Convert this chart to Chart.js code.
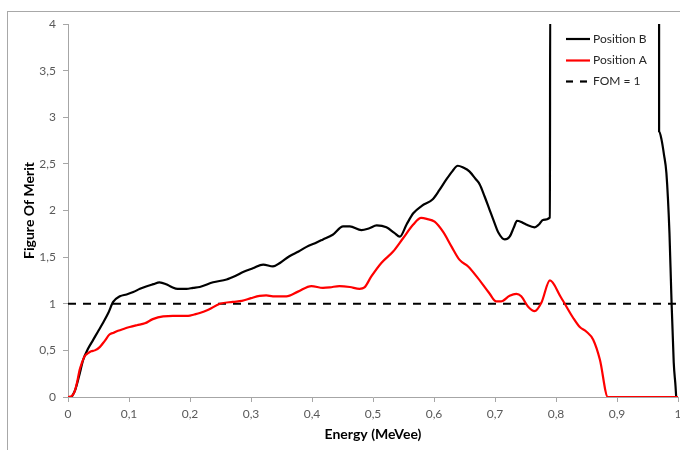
<!DOCTYPE html>
<html>
<head>
<meta charset="utf-8">
<script src="https://cdn.jsdelivr.net/npm/chart.js@4/dist/chart.umd.min.js"></script>
<style>
  html, body { margin: 0; padding: 0; width: 680px; height: 450px; overflow: hidden; background: #fff; }
  #frame { position: absolute; left: 7px; top: 11px; width: 720px; height: 480px; border: 1px solid #a8a8a8; }
  #wrap { position: absolute; left: 0; top: 0; width: 700px; height: 450px; }
</style>
</head>
<body>
<div id="frame"></div>
<div id="wrap"><canvas id="fom" width="700" height="450"></canvas></div>
<script>
// Position B: energy (MeVee) and figure of merit
const energyB = [0.006, 0.012, 0.018, 0.025, 0.033, 0.041, 0.049, 0.057, 0.066, 0.074, 0.085, 0.096, 0.107, 0.118, 0.128, 0.140, 0.150, 0.161, 0.170, 0.180, 0.194, 0.205, 0.216, 0.238, 0.260, 0.275, 0.287, 0.303, 0.320, 0.336, 0.348, 0.363, 0.378, 0.391, 0.405, 0.418, 0.434, 0.451, 0.462, 0.481, 0.494, 0.506, 0.522, 0.535, 0.544, 0.555, 0.566, 0.580, 0.598, 0.609, 0.620, 0.630, 0.639, 0.648, 0.658, 0.668, 0.675, 0.683, 0.691, 0.699, 0.705, 0.716, 0.724, 0.731, 0.736, 0.745, 0.751, 0.765, 0.772, 0.779, 0.790, 0.7905, 0.969, 0.969, 0.973, 0.977, 0.981, 0.986, 0.989, 0.993, 0.996, 0.997];
const fomB = [0, 0.08, 0.22, 0.40, 0.52, 0.61, 0.70, 0.79, 0.90, 1.02, 1.08, 1.10, 1.125, 1.16, 1.185, 1.21, 1.23, 1.21, 1.18, 1.16, 1.16, 1.17, 1.18, 1.23, 1.26, 1.30, 1.34, 1.38, 1.42, 1.40, 1.44, 1.51, 1.56, 1.61, 1.65, 1.69, 1.74, 1.83, 1.83, 1.79, 1.81, 1.84, 1.82, 1.76, 1.72, 1.85, 1.97, 2.05, 2.12, 2.22, 2.33, 2.42, 2.48, 2.46, 2.42, 2.34, 2.28, 2.15, 2.01, 1.87, 1.77, 1.69, 1.72, 1.82, 1.89, 1.87, 1.85, 1.82, 1.85, 1.90, 1.925, 4.4, 4.4, 2.85, 2.76, 2.60, 2.40, 1.76, 1.11, 0.37, 0.11, 0];

// Position A: energy (MeVee) and figure of merit
const energyA = [0, 0.006, 0.011, 0.015, 0.019, 0.023, 0.027, 0.033, 0.038, 0.044, 0.052, 0.060, 0.068, 0.075, 0.082, 0.091, 0.101, 0.113, 0.126, 0.139, 0.156, 0.172, 0.185, 0.197, 0.207, 0.216, 0.230, 0.249, 0.270, 0.285, 0.300, 0.314, 0.325, 0.336, 0.358, 0.377, 0.399, 0.418, 0.429, 0.445, 0.462, 0.478, 0.486, 0.497, 0.514, 0.533, 0.549, 0.566, 0.579, 0.588, 0.601, 0.615, 0.629, 0.642, 0.656, 0.672, 0.691, 0.702, 0.710, 0.724, 0.735, 0.743, 0.754, 0.765, 0.776, 0.790, 0.808, 0.828, 0.839, 0.850, 0.861, 0.872, 0.885, 1.0];
const fomA = [0, 0.01, 0.06, 0.16, 0.29, 0.37, 0.435, 0.47, 0.49, 0.50, 0.535, 0.60, 0.67, 0.69, 0.71, 0.73, 0.75, 0.77, 0.79, 0.835, 0.865, 0.87, 0.87, 0.87, 0.885, 0.90, 0.935, 1.0, 1.02, 1.03, 1.06, 1.085, 1.09, 1.08, 1.08, 1.13, 1.19, 1.17, 1.175, 1.19, 1.18, 1.16, 1.175, 1.29, 1.44, 1.56, 1.70, 1.85, 1.92, 1.91, 1.88, 1.77, 1.61, 1.47, 1.40, 1.275, 1.11, 1.025, 1.025, 1.085, 1.105, 1.08, 0.97, 0.92, 1.01, 1.25, 1.07, 0.85, 0.75, 0.70, 0.615, 0.40, 0, 0];

// Threshold FOM = 1
const energyRef = [0, 1];
const fomRef = [1, 1];

const xTicks = [0, 0.1, 0.2, 0.3, 0.4, 0.5, 0.6, 0.7, 0.8, 0.9, 1];
const yTicks = [0, 0.5, 1, 1.5, 2, 2.5, 3, 3.5, 4];

const pts = (xs, ys) => xs.map((x, i) => ({ x: x, y: ys[i] }));
const comma = v => String(Math.round(v * 10) / 10).replace('.', ',');

// Legend drawn inside the plot, top right
const insideLegend = {
  id: 'insideLegend',
  afterDraw(chart) {
    const ctx = chart.ctx;
    const x0 = 566, x1 = 590, tx = 593;
    const rows = [39, 60.5, 81.5];
    ctx.save();
    ctx.font = '12px Lato';
    ctx.textBaseline = 'middle';
    ctx.textAlign = 'left';
    chart.data.datasets.forEach((ds, i) => {
      const y = rows[i];
      ctx.strokeStyle = ds.borderColor;
      ctx.lineWidth = 2.2;
      ctx.setLineDash(ds.borderDash && ds.borderDash.length ? [7, 7] : []);
      ctx.beginPath();
      ctx.moveTo(x0, y);
      ctx.lineTo(x1, y);
      ctx.stroke();
      ctx.setLineDash([]);
      ctx.fillStyle = '#262626';
      ctx.fillText(ds.label, tx, y);
    });
    ctx.restore();
  }
};

new Chart(document.getElementById('fom'), {
  type: 'line',
  data: {
    datasets: [
      { label: 'Position B', data: pts(energyB, fomB), borderColor: '#000000', borderWidth: 2.2, pointRadius: 0, cubicInterpolationMode: 'monotone', order: 2 },
      { label: 'Position A', data: pts(energyA, fomA), borderColor: '#ff0000', borderWidth: 2.2, pointRadius: 0, cubicInterpolationMode: 'monotone', order: 1 },
      { label: 'FOM = 1', data: pts(energyRef, fomRef), borderColor: '#000000', borderWidth: 2.2, borderDash: [8, 7], pointRadius: 0, order: 3 }
    ]
  },
  options: {
    responsive: false,
    animation: false,
    events: [],
    layout: { padding: { left: 0, right: 22, top: 24, bottom: 0 } },
    plugins: { legend: { display: false }, tooltip: { enabled: false } },
    scales: {
      x: {
        type: 'linear', min: 0, max: 1,
        afterFit: s => { s.height = 53; },
        afterBuildTicks: s => { s.ticks = xTicks.map(v => ({ value: v })); },
        grid: { drawOnChartArea: false, drawTicks: true, tickLength: 5, color: '#a6a6a6' },
        border: { color: '#a6a6a6', width: 1 },
        ticks: { color: '#595959', font: { family: 'Lato', size: 12 }, padding: 5, maxRotation: 0, callback: v => comma(v) },
        title: { display: true, text: 'Energy (MeVee)', color: '#000', font: { family: 'Lato', size: 14, weight: 'bold' }, padding: { top: 2, bottom: 7 } }
      },
      y: {
        type: 'linear', min: 0, max: 4,
        afterFit: s => { s.width = 68; },
        afterBuildTicks: s => { s.ticks = yTicks.map(v => ({ value: v })); },
        grid: { drawOnChartArea: false, drawTicks: true, tickLength: 5, color: '#a6a6a6' },
        border: { color: '#a6a6a6', width: 1 },
        ticks: { color: '#595959', font: { family: 'Lato', size: 12 }, padding: 7, callback: v => comma(v) },
        title: { display: true, text: 'Figure Of Merit', color: '#000', font: { family: 'Lato', size: 14, weight: 'bold' }, padding: { top: 21, bottom: 0 } }
      }
    }
  },
  plugins: [insideLegend]
});
</script>
</body>
</html>
